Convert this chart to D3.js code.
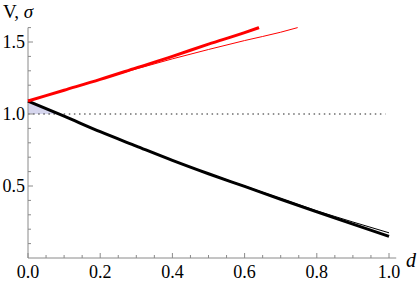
<!DOCTYPE html>
<meta charset="utf-8">
<style>
body { margin: 0; background: #fff; }
svg text { font-family: "Liberation Serif", "Times New Roman", Times, "DejaVu Serif", serif; }
</style>
<svg id="chart" width="417" height="283"></svg>
<script src="https://cdn.jsdelivr.net/npm/d3@7"></script>
<script>

// values
var dBlack = [0, 0.1, 0.2, 0.3, 0.4, 0.5, 0.6, 0.7, 0.8, 0.9, 1.0];
var vBlackThick = [1.09, 0.985, 0.877, 0.777, 0.678, 0.585, 0.497, 0.408, 0.32, 0.235, 0.15];
var vBlackThin  = [1.09, 0.985, 0.877, 0.777, 0.679, 0.587, 0.5, 0.413, 0.328, 0.25, 0.175];

var dRedThick = [0, 0.1, 0.2, 0.3, 0.4, 0.5, 0.6, 0.64];
var vRedThick = [1.09, 1.165, 1.24, 1.32, 1.4, 1.485, 1.565, 1.6];
var dRedThin = [0, 0.1, 0.2, 0.3, 0.4, 0.5, 0.6, 0.7, 0.747];
var vRedThin = [1.09, 1.165, 1.24, 1.313, 1.383, 1.448, 1.51, 1.568, 1.6];

var xTicks = [0, 0.2, 0.4, 0.6, 0.8, 1.0];
var yTicks = [0.5, 1.0, 1.5];
var refLevel = 1.0;

var svg = d3.select("#chart");

var x = d3.scaleLinear().domain([0, 1]).range([28, 389]);
var y = d3.scaleLinear().domain([0, 1]).range([258, 114]);

var zip = function(xs, ys) { return xs.map(function(d, i) { return [d, ys[i]]; }); };

var line = d3.line()
    .x(function(d) { return x(d[0]); })
    .y(function(d) { return y(d[1]); })
    .curve(d3.curveMonotoneX);

// shaded bit between the black curve and the dotted level, near d = 0
var blk = zip(dBlack, vBlackThick);
var cross = 0;
for (var i = 1; i < blk.length; i++) {
  if (blk[i][1] < refLevel) {
    var a = blk[i - 1], b = blk[i];
    cross = a[0] + (a[1] - refLevel) / (a[1] - b[1]) * (b[0] - a[0]);
    break;
  }
}
var shade = [[0, refLevel], [0, blk[0][1]], [cross, refLevel]];
svg.append("path")
    .attr("d", "M" + shade.map(function(p) { return [x(p[0]), y(p[1])]; }).join("L") + "Z")
    .attr("fill", "#d6d6ee");

// dotted reference line
svg.append("line")
    .attr("x1", x(0)).attr("x2", x(0.99))
    .attr("y1", y(refLevel)).attr("y2", y(refLevel))
    .attr("stroke", "#222")
    .attr("stroke-width", 1)
    .attr("stroke-dasharray", "1.5,3.6");

// axes
var axisColor = "#8a8a8a";
var xAxis = svg.append("g").attr("transform", "translate(0," + y(0) + ")");
xAxis.append("line").attr("x1", x(0)).attr("x2", x(1.02)).attr("stroke", axisColor);
xAxis.selectAll(".minor").data(d3.range(0, 1.0001, 0.05)).enter().append("line")
    .attr("x1", function(d) { return x(d); }).attr("x2", function(d) { return x(d); })
    .attr("y1", 0)
    .attr("y2", function(d) { return Math.abs(d * 5 - Math.round(d * 5)) < 1e-6 ? -5 : -3; })
    .attr("stroke", axisColor);
xAxis.selectAll(".lab").data(xTicks).enter().append("text")
    .attr("x", function(d) { return x(d); })
    .attr("y", 20)
    .attr("text-anchor", "middle")
    .style("font-size", "18px")
    .text(d3.format(".1f"));

var yAxis = svg.append("g").attr("transform", "translate(" + x(0) + ",0)");
yAxis.append("line").attr("y1", y(0)).attr("y2", y(1.6)).attr("stroke", axisColor);
yAxis.selectAll(".minor").data(d3.range(0.1, 1.6001, 0.1)).enter().append("line")
    .attr("y1", function(d) { return y(d); }).attr("y2", function(d) { return y(d); })
    .attr("x1", 0)
    .attr("x2", function(d) { return Math.abs(d * 2 - Math.round(d * 2)) < 1e-6 ? 5 : 3; })
    .attr("stroke", axisColor);
yAxis.selectAll(".lab").data(yTicks).enter().append("text")
    .attr("x", -3)
    .attr("y", function(d) { return y(d) + 6; })
    .attr("text-anchor", "end")
    .style("font-size", "18px")
    .text(d3.format(".1f"));

// curves
svg.append("path").datum(zip(dBlack, vBlackThin)).attr("d", line)
    .attr("fill", "none").attr("stroke", "#000").attr("stroke-width", 1);
svg.append("path").datum(blk).attr("d", line)
    .attr("fill", "none").attr("stroke", "#000").attr("stroke-width", 3);
svg.append("path").datum(zip(dRedThin, vRedThin)).attr("d", line)
    .attr("fill", "none").attr("stroke", "#ff0000").attr("stroke-width", 1);
svg.append("path").datum(zip(dRedThick, vRedThick)).attr("d", line)
    .attr("fill", "none").attr("stroke", "#ff0000").attr("stroke-width", 3);

// axis labels
var yl = svg.append("text").attr("x", 3).attr("y", 18).style("font-size", "19px");
yl.append("tspan").text("V, ");
yl.append("tspan").style("font-style", "italic").text("σ");

svg.append("text").attr("x", 406).attr("y", 267)
    .style("font-size", "20px").style("font-style", "italic").text("d");

</script>
